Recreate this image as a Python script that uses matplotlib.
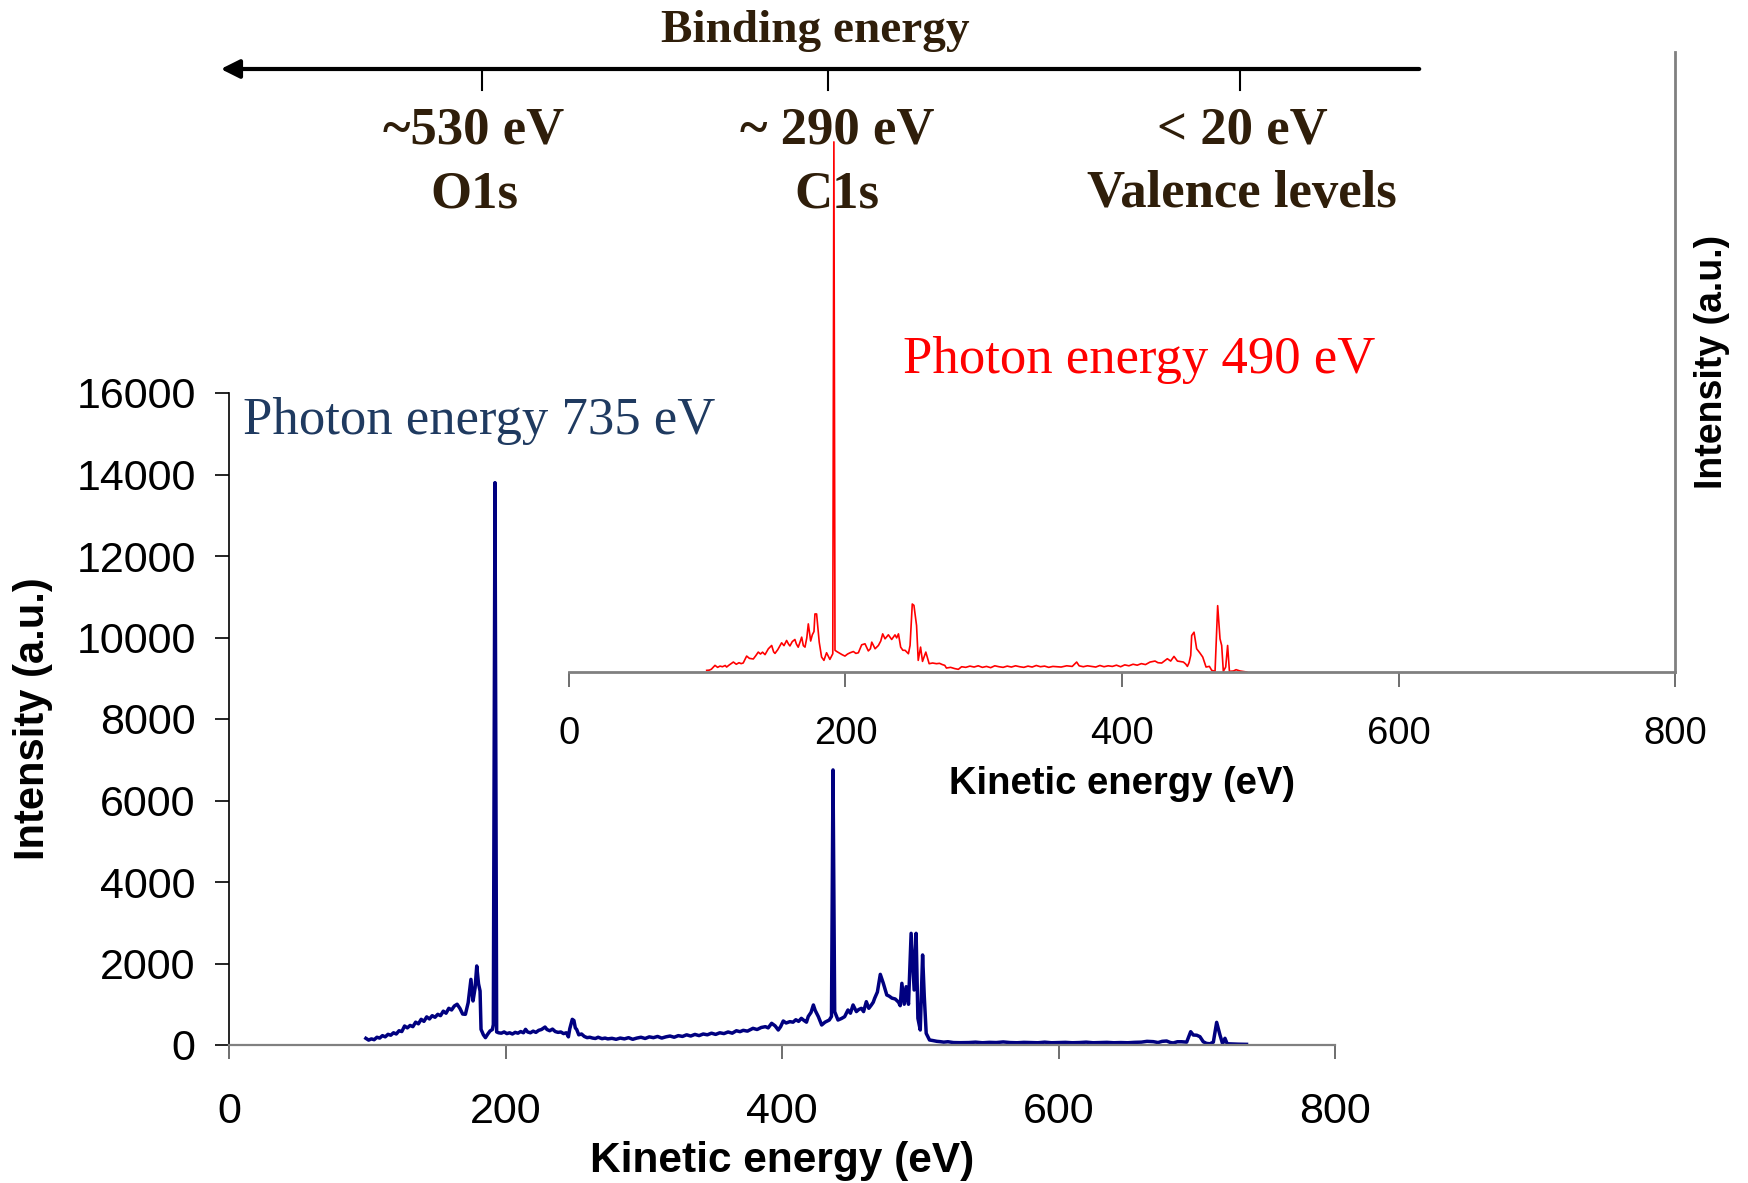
import matplotlib
matplotlib.use('Agg')
import matplotlib.pyplot as plt
from matplotlib.lines import Line2D

W, H = 1749, 1183

# spectrum taken with 735 eV photons (kinetic energy in eV, intensity in a.u.)
ke_735 = [99, 101, 103, 105, 107, 109, 111, 113, 115, 117, 119, 121, 123, 125, 127, 129,
          131, 133, 135, 137, 139, 141, 143, 145, 147, 149, 151, 153, 155, 157, 159, 161,
          163, 165, 167, 169, 171, 173, 175, 176.5, 178, 179.2, 180.5, 181.6, 182.3, 184,
          185.5, 187, 188.8, 190.5, 191.2, 192.4, 193.6, 195, 197, 199, 201, 203, 205, 207,
          209, 211, 213, 214.5, 216, 218, 220, 222, 224, 226, 228.6, 230, 232, 234, 236,
          238, 240, 242, 244, 245.5, 246.5, 248.3, 249.5, 250.5, 251.5, 253, 255, 257, 259,
          261, 263, 265, 267, 269.8, 272, 274, 277, 280, 283, 286, 289, 292, 295, 298, 301,
          304, 307, 310, 313, 316, 319, 322, 325, 328, 331, 334, 337, 340, 343, 346, 349,
          352, 355, 358, 361, 364, 367, 369.6, 372, 375, 379, 382, 385, 388, 390, 392.5,
          395, 397.3, 399, 400.9, 403, 405.7, 408, 410, 412, 414, 416, 417.7, 419, 421,
          422.7, 424, 426.3, 428.7, 431.1, 434.2, 435.8, 436.9, 438.1, 440.5, 443, 445.3,
          447.7, 449.5, 451.4, 453.8, 455.5, 457.4, 459, 461, 462.8, 464.6, 466, 467, 469,
          471.1, 473.3, 475.8, 477.5, 479.5, 481.9, 484.3, 485.5, 486.7, 488.4, 489.8,
          491.5, 493.4, 495.6, 497, 498.3, 500, 501.7, 502.9, 504.3, 506.7, 509, 512,
          514.4, 517, 520, 524, 528.9, 535, 540, 545, 550, 555, 560, 565, 570, 575, 580,
          585, 590, 595, 600, 605, 610, 615, 620, 625, 630, 635, 640, 645, 650, 655, 660,
          664, 668.6, 672, 675, 678.2, 681, 683, 686, 689, 692.7, 695.6, 697.5, 700, 702.3,
          704.7, 707, 709.5, 712, 714.4, 716.8, 718.7, 720.4, 722, 726, 730, 736]
int_735 = [164, 120, 150, 130, 190, 170, 230, 200, 262, 240, 300, 270, 350, 330, 466, 420,
           480, 450, 560, 520, 630, 580, 690, 640, 720, 680, 753, 720, 830, 780, 900, 860,
           957, 1000, 900, 760, 753, 1039, 1611, 1080, 1400, 1939, 1500, 1325, 384, 250,
           180, 260, 344, 380, 500, 13800, 320, 300, 290, 320, 280, 300, 270, 310,
           290, 330, 300, 384, 320, 300, 340, 310, 360, 380, 440, 380, 350, 390, 330,
           310, 320, 280, 300, 200, 400, 630, 600, 420, 380, 250, 270, 210, 180,
           190, 170, 160, 190, 155, 170, 150, 164, 140, 170, 150, 180, 140, 170, 190, 160,
           200, 180, 210, 170, 200, 220, 190, 230, 210, 250, 220, 260, 230, 270, 250, 290,
           260, 300, 280, 320, 290, 350, 327, 360, 340, 409, 380, 430, 450, 420, 532,
           470, 368, 450, 589, 540, 573, 560, 620, 580, 654, 600, 560, 700, 800,
           982, 850, 695, 491, 560, 613, 700, 6750, 818, 613, 650, 695,
           859, 780, 982, 820, 870, 900, 820, 1063, 900, 980, 1050, 1145, 1300,
           1734, 1513, 1227, 1200, 1150, 1129, 1050, 965, 1513, 1000, 1431,
           1000, 2740, 1350, 2740, 654, 368, 2209, 1200, 286, 123, 110, 90,
           82, 70, 80, 60, 57, 60, 70, 55, 65, 60, 75, 60, 55, 65, 60,
           55, 70, 55, 60, 65, 55, 60, 70, 55, 60, 65, 55, 60, 55, 65, 70,
           90, 82, 60, 90, 98, 60, 50, 80, 80, 70, 327, 245, 240, 204,
           80, 40, 30, 70, 556, 245, 30, 164, 30, 25, 20, 16]

# spectrum taken with 490 eV photons
ke_490 = [99.6, 101.5, 103, 105.6, 107.5, 109.2, 111, 113, 114, 116, 118.9, 121, 123, 124.5,
          126, 128.5, 130.5, 133.3, 135, 136.9, 138.5, 140, 141.8, 144.2, 146.6, 148, 149,
          151, 153.8, 155.5, 157.4, 158.8, 159.8, 161.5, 163.4, 164.5, 165.8, 167, 168.3,
          169.5, 170.7, 172, 173.1, 174.8, 176, 177.2, 177.9, 179.1, 181, 182.7, 184.4,
          186.3, 188.7, 190.8, 191.6, 192.4, 193.6, 196, 197.5, 199.6, 201.5, 203.3, 205.7,
          207.5, 209.3, 211.7, 214.1, 216.5, 218, 219, 221.4, 223.8, 225.5, 226.9, 228.6,
          231, 233.4, 235.8, 237, 238.3, 239.9, 241.5, 243.1, 245.5, 246.7, 248.3, 249.5,
          251.4, 252.6, 254.3, 255.7, 258.1, 260.5, 263, 265.8, 268, 270, 271.8, 273, 276,
          279, 281.6, 284, 287, 290, 293, 296, 299, 302, 305, 308, 311, 314, 317, 320, 323,
          326, 329, 332, 335, 338, 341, 344, 347, 350, 353, 356, 360, 364, 367.2, 369, 372,
          375, 378, 381, 384, 387, 390, 393, 396, 399, 402, 405, 408, 411, 414, 417, 420.3,
          423.9, 426, 428.7, 430.5, 432.8, 435.2, 437.6, 440.1, 442, 444.4, 446, 447.3,
          448.5, 449.7, 450.4, 452.1, 454, 456.4, 458.4, 460.8, 463.2, 464.9, 467.3, 469.2,
          470.9, 472.1, 473.3, 475, 476.4, 477.7, 480.6, 482.5, 485.4, 490.2]
int_490 = [53, 60, 90, 214, 150, 190, 170, 210, 160, 230, 321, 250, 300, 270,
           290, 514, 440, 420, 520, 642, 580, 640, 560, 749, 856, 650, 600,
           720, 942, 850, 1017, 900, 840, 980, 1049, 900, 800, 950, 1124,
           850, 803, 1100, 1552, 1000, 1200, 1305, 1873, 1873, 960, 482, 375,
           621, 407, 589, 17100, 700, 663, 600, 560, 514, 580, 620, 660,
           600, 620, 877, 910, 680, 750, 963, 750, 856, 1000, 1230, 1070,
           1200, 1049, 1198, 1100, 1230, 803, 700, 700, 589, 856, 2193, 2150,
           1498, 375, 803, 342, 642, 268, 290, 268, 280, 240, 214, 128, 150,
           110, 86, 170, 150, 190, 160, 200, 150, 180, 140, 200, 170, 150, 190, 160, 200,
           170, 150, 190, 160, 210, 170, 190, 150, 180, 170, 160, 200, 180, 321, 200, 170,
           200, 180, 160, 210, 170, 200, 180, 220, 170, 230, 200, 250, 220, 270, 240, 321,
           353, 300, 289, 350, 428, 353, 503, 353, 340, 321, 260, 182,
           300, 535, 1177, 1284, 749, 610, 482, 160, 182, 53, 21, 2140,
           1070, 856, 21, 160, 856, 21, 32, 75, 32, 0]

ke_ticks = [0, 200, 400, 600, 800]
int_ticks = [0, 2000, 4000, 6000, 8000, 10000, 12000, 14000, 16000]

binding_energies = ['~530 eV', '~ 290 eV', '< 20 eV']
core_levels = ['O1s', 'C1s', 'Valence levels']

# layout in figure pixels (measured from top-left)
be_tick_x = [482, 828, 1240]
be_label_x = [474, 837, 1242]

SERIF = 'Liberation Serif'
SANS = 'Liberation Sans'
BROWN = '#2F1E0A'
GRAY = '#808080'

plt.rcParams['font.family'] = SANS

fig = plt.figure(figsize=(W / 100, H / 100), dpi=100)


def fx(px):
    return px / W


def fy(py):
    return 1 - py / H


# main spectrum (735 eV)
ax = fig.add_axes([fx(229), fy(1045), 1106 / W, 652 / H])
ax.plot(ke_735, int_735, color='#000080', lw=2.5)
ax.set_xlim(0, 800)
ax.set_ylim(0, 16000)
ax.set_xticks(ke_ticks)
ax.set_yticks(int_ticks)
for s in ['top', 'right']:
    ax.spines[s].set_visible(False)
ax.spines['bottom'].set_color(GRAY)
ax.spines['bottom'].set_linewidth(1.6)
ax.spines['left'].set_color('black')
ax.spines['left'].set_linewidth(1.2)
ax.tick_params(axis='y', direction='out', length=10, width=1.2, labelsize=31, pad=14)
ax.tick_params(axis='x', direction='out', length=10, width=1.2, labelsize=31, pad=24,
               color='#555555')
ax.set_xlabel('Kinetic energy (eV)', fontsize=30.5, fontweight='bold')
ax.xaxis.set_label_coords(0.5, -0.178)
ax.xaxis.label.set_va('center')
ax.set_ylabel('Intensity (a.u.)', fontsize=30, fontweight='bold')
ax.yaxis.set_label_coords(-0.177, 0.5)
ax.yaxis.label.set_va('center')

# shifted spectrum (490 eV)
ax2 = fig.add_axes([fx(569), fy(672), 1106 / W, 620 / H], facecolor='none')
ax2.plot(ke_490, int_490, color='#FF0000', lw=1.2)
ax2.set_xlim(0, 800)
ax2.set_ylim(0, 20000)
ax2.set_xticks(ke_ticks)
ax2.set_yticks([])
for s in ['top', 'left']:
    ax2.spines[s].set_visible(False)
for s in ['bottom', 'right']:
    ax2.spines[s].set_color(GRAY)
    ax2.spines[s].set_linewidth(2)
ax2.tick_params(axis='x', direction='out', length=11, width=1.2, labelsize=27.5, pad=21,
                color='#555555')
ax2.set_xlabel('Kinetic energy (eV)', fontsize=27.5, fontweight='bold')
ax2.xaxis.set_label_coords(0.5, -0.18)
ax2.xaxis.label.set_va('center')
ax2.yaxis.set_label_position('right')
ax2.set_ylabel('Intensity (a.u.)', fontsize=27, fontweight='bold', rotation=90)
ax2.yaxis.set_label_coords(1.0335, 0.5)
ax2.yaxis.label.set_va('center')

fig.text(fx(243), fy(421), 'Photon energy 735 eV', family=SERIF, fontsize=38,
         color='#1F3A60', ha='left', va='center')
fig.text(fx(903), fy(360), 'Photon energy 490 eV', family=SERIF, fontsize=38,
         color='#FF0000', ha='left', va='center')

# binding energy scale on top
fig.text(fx(815), fy(31), 'Binding energy', family=SERIF, fontsize=34,
         fontweight='bold', color=BROWN, ha='center', va='center')
fig.patches.append(plt.matplotlib.patches.FancyArrowPatch(
    (fx(1422), fy(69)), (fx(218), fy(69)), transform=fig.transFigure,
    arrowstyle='-|>', mutation_scale=28, lw=3, color='black'))
for x in be_tick_x:
    fig.add_artist(Line2D([fx(x), fx(x)], [fy(69), fy(90)], color='black', lw=1.5))
for x, be, lev in zip(be_label_x, binding_energies, core_levels):
    fig.text(fx(x), fy(130), be, family=SERIF, fontsize=38, fontweight='bold',
             color=BROWN, ha='center', va='center')
    fig.text(fx(x), fy(194), lev, family=SERIF, fontsize=38, fontweight='bold',
             color=BROWN, ha='center', va='center')

fig.savefig('out.png', dpi=100)
